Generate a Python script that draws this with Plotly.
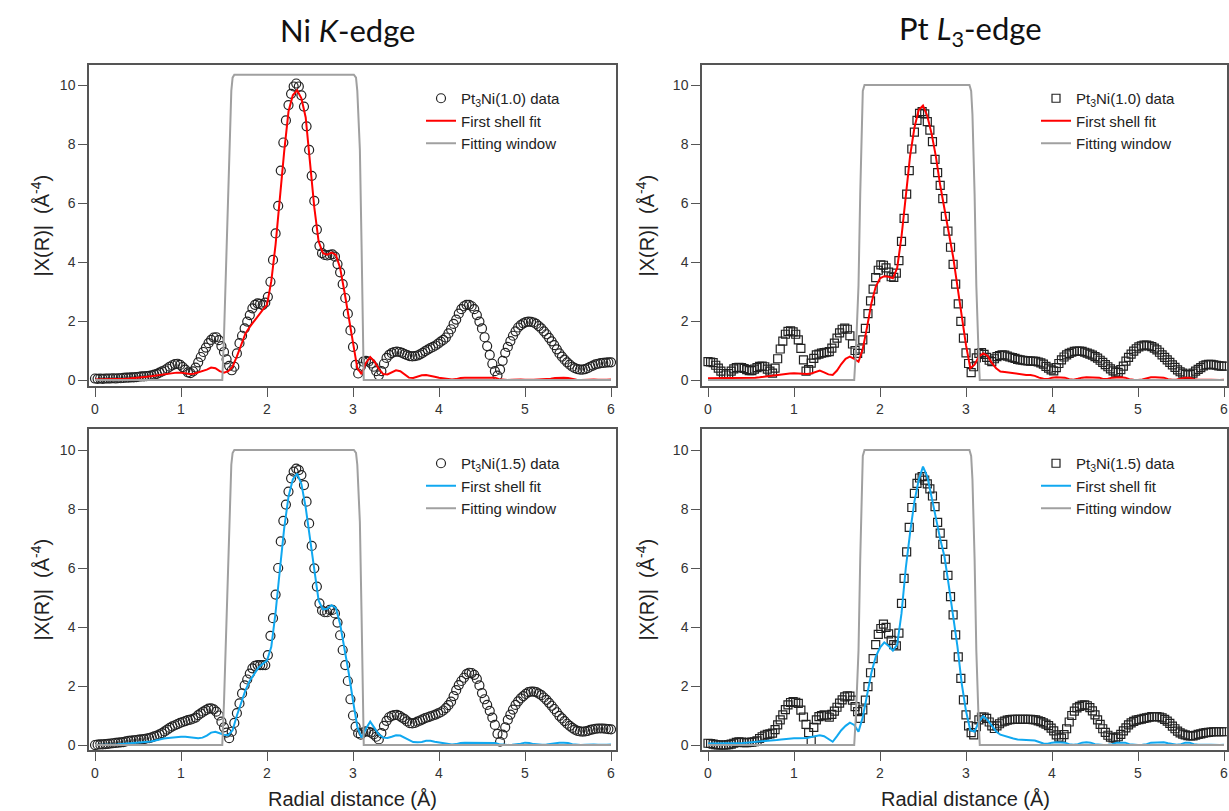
import numpy as np
import plotly.graph_objects as go

# ---------------- data ----------------
N_DATA = 201           # R grid 0 ... 6.00 A, step 0.03
N_FIT = 121            # R grid 0 ... 6.00 A, step 0.05
R_DATA = np.round(np.arange(N_DATA) * 0.03, 2)
R_FIT = np.round(np.arange(N_FIT) * 0.05, 2)

# Ni K-edge, Pt3Ni(1.0)
NI10_DATA = [0.05,0.04,0.05,0.04,0.05,0.05,0.05,0.06,0.05,0.06,0.06,0.07,0.08,0.08,0.09,0.09,0.10,0.11,0.12,0.12,
             0.13,0.14,0.16,0.18,0.21,0.25,0.29,0.33,0.39,0.45,0.50,0.54,0.55,0.51,0.44,0.35,0.26,0.23,0.29,0.42,
             0.60,0.78,0.95,1.10,1.25,1.36,1.44,1.45,1.35,1.15,0.95,0.70,0.48,0.33,0.45,0.90,1.25,1.50,1.75,1.98,
             2.20,2.43,2.55,2.60,2.58,2.54,2.62,2.82,3.33,4.07,4.97,5.90,7.10,8.05,8.80,9.32,9.70,9.95,10.05,9.95,
             9.65,9.27,8.60,7.80,6.92,6.07,5.10,4.55,4.30,4.24,4.22,4.24,4.26,4.18,3.93,3.65,3.25,2.78,2.25,1.68,
             1.12,0.51,0.22,0.45,0.62,0.65,0.62,0.56,0.45,0.30,0.16,0.30,0.55,0.75,0.85,0.91,0.95,0.96,0.95,0.92,
             0.88,0.84,0.81,0.80,0.81,0.83,0.87,0.92,0.98,1.03,1.08,1.12,1.17,1.23,1.30,1.36,1.44,1.58,1.72,1.90,
             2.05,2.25,2.40,2.50,2.55,2.55,2.50,2.40,2.20,1.98,1.75,1.45,1.15,0.85,0.55,0.30,0.15,0.35,0.65,0.92,
             1.12,1.32,1.50,1.65,1.78,1.86,1.92,1.96,1.98,1.97,1.95,1.90,1.83,1.75,1.65,1.55,1.43,1.31,1.18,1.04,
             0.90,0.79,0.69,0.60,0.52,0.45,0.40,0.37,0.35,0.35,0.37,0.40,0.45,0.49,0.53,0.55,0.57,0.58,0.59,0.60,
             0.60]
NI10_FIT = [0.02,0.02,0.02,0.03,0.03,0.03,0.04,0.04,0.05,0.06,0.07,0.09,0.11,0.13,0.15,0.17,0.20,0.22,0.24,0.25,
            0.25,0.23,0.20,0.21,0.25,0.30,0.35,0.42,0.40,0.30,0.25,0.30,0.45,0.80,1.20,1.58,1.80,2.00,2.22,2.38,
            2.55,3.35,4.60,6.20,7.75,9.10,9.65,9.82,9.55,8.90,7.45,5.85,4.70,4.30,4.25,4.32,4.25,3.80,3.00,2.15,
            1.30,0.40,0.20,0.58,0.78,0.62,0.38,0.20,0.19,0.27,0.33,0.30,0.20,0.08,0.07,0.12,0.16,0.17,0.15,0.11,
            0.08,0.06,0.04,0.02,0.03,0.07,0.08,0.08,0.08,0.08,0.07,0.07,0.08,0.08,0.03,0.01,0.00,0.01,0.02,0.02,
            0.01,0.00,0.01,0.02,0.02,0.03,0.04,0.07,0.08,0.08,0.07,0.03,0.01,0.00,0.01,0.02,0.02,0.01,0.00,0.01,
            0.02]

# Pt L3-edge, Pt3Ni(1.0)
PT10_DATA = [0.62,0.61,0.59,0.50,0.40,0.30,0.22,0.17,0.22,0.30,0.38,0.42,0.43,0.42,0.39,0.35,0.32,0.32,0.37,0.42,
             0.46,0.47,0.45,0.37,0.30,0.23,0.40,0.72,1.05,1.32,1.55,1.65,1.67,1.63,1.55,1.36,1.07,0.68,0.30,0.35,
             0.57,0.73,0.85,0.88,0.91,0.93,0.94,0.96,1.08,1.25,1.42,1.60,1.72,1.76,1.72,1.50,1.22,1.00,0.90,1.05,
             1.36,1.75,2.25,2.68,3.08,3.47,3.72,3.90,3.89,3.80,3.66,3.50,3.48,3.62,4.05,4.70,5.48,6.30,7.10,7.83,
             8.40,8.80,9.04,9.10,9.02,8.76,8.47,8.08,7.48,7.03,6.60,6.15,5.55,5.05,4.50,3.92,3.25,2.58,1.99,1.42,
             0.92,0.56,0.25,0.45,0.75,0.90,0.93,0.87,0.77,0.67,0.62,0.72,0.79,0.83,0.85,0.84,0.81,0.78,0.76,0.73,
             0.70,0.68,0.67,0.66,0.65,0.64,0.64,0.63,0.61,0.58,0.54,0.46,0.40,0.34,0.31,0.42,0.56,0.68,0.78,0.85,
             0.90,0.94,0.97,0.98,0.98,0.97,0.94,0.91,0.88,0.84,0.79,0.74,0.67,0.60,0.52,0.45,0.38,0.31,0.27,0.26,
             0.35,0.47,0.64,0.77,0.88,0.98,1.06,1.12,1.16,1.18,1.18,1.16,1.13,1.08,1.02,0.94,0.85,0.77,0.68,0.60,
             0.51,0.43,0.34,0.28,0.23,0.19,0.17,0.19,0.23,0.30,0.36,0.42,0.48,0.51,0.53,0.53,0.51,0.50,0.48,0.47,
             0.47]
PT10_FIT = [0.06,0.06,0.06,0.06,0.06,0.06,0.06,0.06,0.07,0.07,0.07,0.08,0.09,0.11,0.13,0.16,0.17,0.19,0.21,0.22,
            0.23,0.22,0.20,0.20,0.22,0.27,0.32,0.26,0.19,0.17,0.32,0.54,0.72,0.79,0.72,0.62,1.05,1.80,2.60,3.16,
            3.45,3.52,3.50,3.45,3.80,4.86,6.30,7.60,8.55,9.15,9.30,8.95,8.35,7.57,6.60,5.80,5.00,4.18,3.18,2.10,
            1.18,0.40,0.52,0.80,0.90,0.82,0.58,0.40,0.29,0.27,0.25,0.21,0.19,0.17,0.17,0.17,0.14,0.08,0.04,0.03,
            0.08,0.09,0.09,0.08,0.03,0.01,0.04,0.08,0.09,0.09,0.09,0.08,0.03,0.04,0.08,0.09,0.09,0.08,0.03,0.01,
            0.00,0.02,0.05,0.09,0.09,0.09,0.08,0.03,0.01,0.02,0.05,0.08,0.08,0.03,0.01,0.00,0.01,0.01,0.00,0.00,
            0.01]

# Ni K-edge, Pt3Ni(1.5)
NI15_DATA = [0.00,0.01,0.02,0.02,0.03,0.04,0.05,0.06,0.07,0.08,0.09,0.10,0.12,0.14,0.15,0.16,0.17,0.18,0.19,0.20,
             0.22,0.23,0.26,0.29,0.32,0.36,0.40,0.46,0.52,0.58,0.63,0.67,0.71,0.75,0.78,0.81,0.84,0.86,0.89,0.93,
             1.01,1.07,1.13,1.18,1.23,1.24,1.21,1.13,1.00,0.79,0.60,0.42,0.23,0.45,0.75,1.08,1.41,1.75,2.02,2.22,
             2.42,2.60,2.68,2.71,2.71,2.71,2.71,3.05,3.70,4.30,5.10,6.00,6.90,7.60,8.15,8.59,9.04,9.27,9.37,9.32,
             9.15,8.81,8.25,7.51,6.75,5.99,5.37,4.80,4.56,4.50,4.50,4.58,4.58,4.46,4.15,3.72,3.22,2.71,2.17,1.55,
             1.00,0.62,0.40,0.35,0.43,0.46,0.45,0.42,0.36,0.28,0.19,0.40,0.65,0.82,0.94,0.99,1.01,1.02,0.99,0.93,
             0.88,0.80,0.74,0.73,0.75,0.79,0.83,0.87,0.91,0.94,0.97,1.00,1.03,1.07,1.11,1.17,1.25,1.35,1.47,1.66,
             1.86,2.03,2.17,2.28,2.40,2.45,2.44,2.38,2.24,2.02,1.76,1.55,1.36,1.16,0.93,0.68,0.38,0.11,0.35,0.60,
             0.85,1.03,1.20,1.36,1.48,1.58,1.66,1.73,1.79,1.81,1.81,1.79,1.74,1.69,1.61,1.53,1.43,1.33,1.22,1.11,
             0.99,0.90,0.81,0.72,0.65,0.58,0.52,0.48,0.46,0.45,0.46,0.48,0.51,0.53,0.55,0.56,0.56,0.56,0.55,0.54,
             0.53]
NI15_FIT = [0.00,0.00,0.01,0.01,0.02,0.02,0.03,0.04,0.05,0.06,0.07,0.09,0.10,0.12,0.15,0.19,0.22,0.24,0.26,0.27,
            0.28,0.28,0.27,0.25,0.23,0.25,0.32,0.42,0.45,0.40,0.35,0.33,0.50,1.00,1.45,1.86,2.18,2.42,2.62,2.75,
            2.86,3.33,4.50,5.95,7.35,8.42,9.00,9.20,8.85,8.05,6.95,5.82,4.90,4.60,4.62,4.74,4.65,4.10,3.30,2.45,
            1.50,0.62,0.25,0.55,0.79,0.56,0.36,0.25,0.24,0.28,0.33,0.32,0.24,0.16,0.10,0.09,0.10,0.14,0.14,0.11,
            0.09,0.06,0.03,0.02,0.03,0.07,0.08,0.08,0.08,0.08,0.07,0.07,0.08,0.07,0.03,0.01,0.00,0.01,0.02,0.04,
            0.08,0.07,0.03,0.01,0.01,0.02,0.04,0.07,0.08,0.08,0.07,0.03,0.01,0.00,0.01,0.02,0.02,0.01,0.00,0.01,
            0.02]

# Pt L3-edge, Pt3Ni(1.5)
PT15_DATA = [0.06,0.05,0.03,0.01,0.00,0.00,0.00,0.00,0.01,0.03,0.06,0.09,0.11,0.10,0.08,0.08,0.09,0.10,0.11,0.14,
             0.22,0.28,0.33,0.36,0.38,0.40,0.52,0.68,0.85,1.02,1.20,1.36,1.44,1.47,1.45,1.41,1.18,0.95,0.70,0.42,
             0.15,0.60,0.85,0.96,1.00,1.02,0.99,0.94,1.04,1.15,1.28,1.42,1.53,1.63,1.67,1.66,1.52,1.30,1.13,0.90,
             1.19,1.52,1.98,2.45,2.93,3.40,3.75,3.95,4.10,3.99,3.77,3.55,3.40,3.36,3.79,4.80,5.65,6.55,7.38,8.05,
             8.53,8.87,9.05,9.10,8.98,8.85,8.68,8.44,8.08,7.55,7.18,6.80,6.30,5.75,5.03,4.41,3.73,2.99,2.26,1.53,
             1.02,0.65,0.42,0.34,0.62,0.85,0.95,0.95,0.90,0.78,0.65,0.56,0.65,0.72,0.78,0.81,0.84,0.86,0.87,0.87,
             0.87,0.87,0.87,0.87,0.87,0.87,0.86,0.85,0.82,0.79,0.75,0.71,0.66,0.57,0.48,0.34,0.27,0.23,0.35,0.55,
             0.78,1.00,1.15,1.26,1.31,1.35,1.36,1.33,1.27,1.16,1.02,0.85,0.70,0.55,0.43,0.33,0.27,0.24,0.23,0.28,
             0.36,0.48,0.58,0.68,0.75,0.80,0.84,0.86,0.88,0.90,0.92,0.94,0.96,0.96,0.96,0.95,0.92,0.87,0.81,0.73,
             0.64,0.55,0.47,0.41,0.37,0.34,0.32,0.31,0.31,0.33,0.36,0.38,0.40,0.42,0.43,0.44,0.45,0.45,0.45,0.45,
             0.45]
PT15_FIT = [0.05,0.05,0.05,0.05,0.05,0.05,0.06,0.06,0.07,0.08,0.09,0.10,0.11,0.13,0.15,0.16,0.17,0.19,0.21,0.22,
            0.23,0.23,0.23,0.24,0.27,0.30,0.33,0.30,0.20,0.11,0.30,0.50,0.65,0.76,0.68,0.45,0.95,1.68,2.45,2.99,
            3.30,3.48,3.36,3.20,3.40,4.46,6.00,7.20,8.25,8.98,9.44,9.10,8.45,7.70,6.98,6.38,5.40,4.35,3.35,2.09,
            1.15,0.50,0.45,0.79,0.98,0.85,0.66,0.46,0.35,0.30,0.27,0.22,0.19,0.18,0.17,0.16,0.15,0.10,0.05,0.04,
            0.08,0.09,0.09,0.08,0.03,0.01,0.03,0.08,0.09,0.08,0.03,0.01,0.00,0.01,0.03,0.08,0.09,0.08,0.03,0.01,
            0.00,0.01,0.03,0.08,0.09,0.09,0.09,0.06,0.03,0.01,0.03,0.08,0.08,0.03,0.01,0.00,0.01,0.01,0.00,0.00,
            0.01]

# Fitting windows (R, amplitude)
WIN_NI10_R = [0.00, 1.48, 1.50, 1.53, 1.56, 1.585, 1.60, 1.62, 3.01, 3.035, 3.05, 3.08, 3.10, 3.115, 3.125, 6.00]
WIN_NI10_Y = [0.00, 0.00, 1.50, 4.50, 7.80, 9.80, 10.25, 10.35, 10.35, 10.25, 9.80, 7.80, 4.50, 1.50, 0.00, 0.00]
WIN_NI15_R = WIN_NI10_R
WIN_NI15_Y = [0.00, 0.00, 1.45, 4.35, 7.55, 9.50, 9.90, 10.00, 10.00, 9.90, 9.50, 7.55, 4.35, 1.45, 0.00, 0.00]
WIN_PT_R = [0.00, 1.70, 1.72, 1.75, 1.77, 1.79, 1.80, 1.82, 3.04, 3.06, 3.075, 3.10, 3.12, 3.145, 3.16, 6.00]
WIN_PT_Y = [0.00, 0.00, 1.00, 3.20, 6.30, 9.00, 9.80, 10.00, 10.00, 9.80, 9.00, 6.30, 3.20, 1.00, 0.00, 0.00]

X_TICKS = [0, 1, 2, 3, 4, 5, 6]
Y_TICKS = [0, 2, 4, 6, 8, 10]
COL_TITLES = ["Ni <i>K</i>-edge", "Pt <i>L</i><sub>3</sub>-edge"]
Y_TITLE = "|X(R)|  (Å<sup>-4</sup>)"
X_TITLE = "Radial distance (Å)"
DATA_NAMES = ["Pt<sub>3</sub>Ni(1.0) data", "Pt<sub>3</sub>Ni(1.0) data",
              "Pt<sub>3</sub>Ni(1.5) data", "Pt<sub>3</sub>Ni(1.5) data"]

# ---------------- figure ----------------
W, H = 1229, 811


def fx(px):
    return px / W


def fy(py):
    return 1 - py / H


RED = "#ff0000"
BLUE = "#10a8f0"
GRAY = "#a0a0a0"
INK = "#222222"
AXC = "#555555"
FONT = "Liberation Sans, Arial, sans-serif"

panels = [
    # data, fit, win_r, win_y, symbol, fit colour, x px range, y px range, legend left px, legend top px, ytitle x
    (NI10_DATA, NI10_FIT, WIN_NI10_R, WIN_NI10_Y, "circle-open", RED, (89, 616), (65, 386), 421, 82, 40),
    (PT10_DATA, PT10_FIT, WIN_PT_R, WIN_PT_Y, "square-open", RED, (702, 1227), (65, 386), 1036, 82, 645),
    (NI15_DATA, NI15_FIT, WIN_NI15_R, WIN_NI15_Y, "circle-open", BLUE, (89, 616), (429, 750), 421, 447, 40),
    (PT15_DATA, PT15_FIT, WIN_PT_R, WIN_PT_Y, "square-open", BLUE, (702, 1227), (429, 750), 1036, 447, 645),
]
ZERO_PX = [(95, 380), (708, 380), (95, 745), (708, 745)]
PX_PER_R = 86.0
PX_PER_Y = 29.5

fig = go.Figure()
layout = dict(width=W, height=H, margin=dict(l=0, r=0, t=0, b=0),
              paper_bgcolor="white", plot_bgcolor="white",
              font=dict(family=FONT, color=INK), annotations=[])

for i, (dat, fit, wr, wy, sym, fcol, xpx, ypx, lgx, lgy, ytx) in enumerate(panels):
    n = "" if i == 0 else str(i + 1)
    xa, ya = "x" + n, "y" + n
    lg = "legend" + n
    fig.add_trace(go.Scatter(x=R_DATA, y=dat, mode="markers", name=DATA_NAMES[i],
                             marker=dict(symbol=sym, size=9 if sym.startswith("circle") else 8,
                                         color=INK, line=dict(width=1.2, color=INK)),
                             xaxis=xa, yaxis=ya, legend=lg))
    fig.add_trace(go.Scatter(x=R_FIT, y=fit, mode="lines", name="First shell fit",
                             line=dict(color=fcol, width=2), xaxis=xa, yaxis=ya, legend=lg))
    fig.add_trace(go.Scatter(x=wr, y=wy, mode="lines", name="Fitting window",
                             line=dict(color=GRAY, width=2), xaxis=xa, yaxis=ya, legend=lg))

    x0px, y0px = ZERO_PX[i]
    xr = [(xpx[0] - x0px) / PX_PER_R, (xpx[1] - x0px) / PX_PER_R]
    yr = [(y0px - ypx[1]) / PX_PER_Y, (y0px - ypx[0]) / PX_PER_Y]
    axis_common = dict(showgrid=False, zeroline=False, showline=True, linecolor=AXC, linewidth=1.5,
                       mirror=True, ticks="outside", ticklen=9, tickwidth=1.3, tickcolor=AXC,
                       tickfont=dict(family=FONT, size=14, color="#333333"), automargin=False)
    layout["xaxis" + n] = dict(axis_common, domain=[fx(xpx[0]), fx(xpx[1])], range=xr,
                               tickvals=X_TICKS, anchor=ya)
    layout["yaxis" + n] = dict(axis_common, domain=[fy(ypx[1]), fy(ypx[0])], range=yr,
                               tickvals=Y_TICKS, anchor=xa)
    layout[lg] = dict(x=fx(lgx), y=fy(lgy), xanchor="left", yanchor="top",
                      bgcolor="rgba(0,0,0,0)", font=dict(family=FONT, size=15, color=INK),
                      tracegroupgap=0, itemwidth=30)
    # y-axis title
    layout["annotations"].append(dict(text=Y_TITLE, textangle=-90, showarrow=False,
                                      xref="paper", yref="paper", xanchor="center", yanchor="middle",
                                      x=fx(ytx), y=fy((ypx[0] + ypx[1]) / 2),
                                      font=dict(family=FONT, size=20, color=INK)))

for j, t in enumerate(COL_TITLES):
    layout["annotations"].append(dict(text=t, showarrow=False, xref="paper", yref="paper",
                                      xanchor="center", yanchor="middle",
                                      x=fx([347, 970][j]), y=fy(30),
                                      font=dict(family="Lato, Carlito, sans-serif", size=31, color="#111111")))
    layout["annotations"].append(dict(text=X_TITLE, showarrow=False, xref="paper", yref="paper",
                                      xanchor="center", yanchor="middle",
                                      x=fx([352, 965][j]), y=fy(799),
                                      font=dict(family=FONT, size=20, color=INK)))

fig.update_layout(**layout)
# remove the default 8px page margin so the 1229x811 figure fills the window exactly
fig.write_html("out.html",
               config={"displayModeBar": False},
               post_script="document.body.style.margin='0';document.body.style.overflow='hidden';")
